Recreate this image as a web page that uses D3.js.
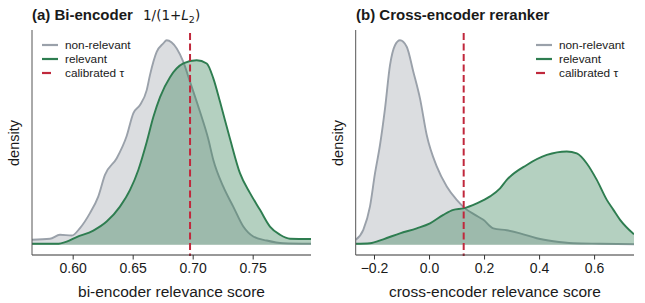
<!DOCTYPE html>
<html>
<head>
<meta charset="utf-8">
<script src="https://cdn.jsdelivr.net/npm/d3@7"></script>
<style>
  body { margin: 0; background: #fff; }
  svg { display: block; }
  text { font-family: "Liberation Sans", Arial, sans-serif; fill: #1a1a1a; }
</style>
</head>
<body>
<script>
// bi-encoder panel (a): score grid + densities
const biScoreNon = [0.5661, 0.5811, 0.5894, 0.5992, 0.6061, 0.6144, 0.6213, 0.6269, 0.6367, 0.6450, 0.6505, 0.6561, 0.6617, 0.6644, 0.6700, 0.6755, 0.6783, 0.6867, 0.6922, 0.6978, 0.7061, 0.7130, 0.7172, 0.7255, 0.7338, 0.7422, 0.7505, 0.7617, 0.7755, 0.7986];
const biDensNon = [0.40, 0.48, 0.80, 0.74, 1.34, 2.54, 3.86, 5.60, 6.94, 8.72, 10.54, 11.20, 12.40, 13.60, 15.46, 16.14, 16.40, 15.74, 14.66, 13.06, 10.66, 8.48, 6.80, 4.66, 3.06, 1.46, 0.66, 0.34, 0.12, 0.08];
const biScoreRel = [0.5661, 0.5867, 0.5950, 0.6033, 0.6172, 0.6283, 0.6394, 0.6478, 0.6547, 0.6617, 0.6672, 0.6728, 0.6811, 0.6922, 0.7033, 0.7117, 0.7172, 0.7228, 0.7311, 0.7394, 0.7478, 0.7561, 0.7644, 0.7728, 0.7811, 0.7986];
const biDensRel = [0.08, 0.08, 0.26, 0.62, 1.14, 1.86, 3.06, 4.40, 6.00, 8.24, 10.24, 11.84, 13.44, 14.54, 14.80, 14.54, 13.34, 11.46, 8.50, 5.74, 4.14, 2.80, 1.46, 0.80, 0.48, 0.46];
const biTau = 0.6978;
const biTicks = [0.60, 0.65, 0.70, 0.75];

// cross-encoder panel (b)
const ceScoreNon = [-0.2665, -0.2389, -0.2145, -0.1964, -0.1782, -0.1600, -0.1418, -0.1236, -0.1055, -0.0811, -0.0571, -0.0327, -0.0084, 0.0280, 0.0644, 0.1007, 0.1309, 0.1673, 0.1975, 0.2338, 0.2825, 0.3309, 0.3916, 0.4520, 0.5247, 0.6218, 0.7450];
const ceDensNon = [0.10, 0.30, 0.77, 1.43, 2.00, 2.73, 3.60, 4.00, 4.10, 3.97, 3.47, 2.93, 2.20, 1.57, 1.17, 0.90, 0.73, 0.60, 0.50, 0.33, 0.29, 0.23, 0.13, 0.07, 0.03, 0.02, 0.01];
const ceScoreRel = [-0.2665, -0.2145, -0.1662, -0.1055, -0.0447, 0.0036, 0.0520, 0.0884, 0.1247, 0.1735, 0.2218, 0.2582, 0.2825, 0.3553, 0.4280, 0.5007, 0.5371, 0.5735, 0.6098, 0.6462, 0.6702, 0.6945, 0.7450];
const ceDensRel = [0.02, 0.03, 0.11, 0.23, 0.33, 0.43, 0.60, 0.70, 0.73, 0.83, 0.97, 1.13, 1.30, 1.60, 1.80, 1.87, 1.83, 1.63, 1.30, 0.90, 0.70, 0.50, 0.21];
const ceTau = 0.126;
const ceTicks = [-0.2, 0.0, 0.2, 0.4, 0.6];

const legendLabels = ["non-relevant", "relevant", "calibrated \u03c4"];

const greyCol = "#9aa1aa", greenCol = "#2e7d50", tauCol = "#c0283c";

const svg = d3.select("body").append("svg")
  .attr("width", 645)
  .attr("height", 303);

function panel(opt) {
  const g = svg.append("g");
  const x = d3.scaleLinear().domain(opt.xDomain).range([opt.left, opt.right]);
  const M = d3.max(opt.non.concat(opt.rel));
  const y = d3.scaleLinear().domain([-0.05 * M, 1.05 * M]).range([255, 30]);

  const clipId = "clip" + opt.id;
  g.append("clipPath").attr("id", clipId)
    .append("rect").attr("x", opt.left).attr("y", 28).attr("width", opt.right - opt.left).attr("height", 230);
  const plot = g.append("g").attr("clip-path", `url(#${clipId})`);

  const series = [
    {xs: opt.nonX, ys: opt.non, col: greyCol},
    {xs: opt.relX, ys: opt.rel, col: greenCol}
  ];
  series.forEach(s => {
    const pts = s.xs.map((v, i) => [v, s.ys[i]]);
    const area = d3.area().x(d => x(d[0])).y0(y(0)).y1(d => y(d[1])).curve(d3.curveMonotoneX);
    const line = d3.line().x(d => x(d[0])).y(d => y(d[1])).curve(d3.curveMonotoneX);
    plot.append("path").attr("d", area(pts)).attr("fill", s.col).attr("fill-opacity", 0.36);
    plot.append("path").attr("d", line(pts)).attr("fill", "none").attr("stroke", s.col).attr("stroke-width", 1.9);
  });

  plot.append("line")
    .attr("x1", x(opt.tau)).attr("x2", x(opt.tau))
    .attr("y1", 33).attr("y2", 256)
    .attr("stroke", tauCol).attr("stroke-width", 2)
    .attr("stroke-dasharray", "7,3.5");

  // axes
  const xAxis = d3.axisBottom(x).tickValues(opt.ticks).tickFormat(opt.fmt).tickSize(4.5).tickPadding(4);
  const ax = g.append("g").attr("transform", "translate(0,255)").call(xAxis);
  ax.select(".domain").attr("stroke", "#333").attr("stroke-width", 1).attr("d", `M${opt.left},0H${opt.right}`);
  ax.selectAll(".tick line").attr("stroke", "#333");
  ax.selectAll(".tick text").attr("font-size", 14).attr("fill", "#1a1a1a")
    .style("font-family", "'Liberation Sans', Arial, sans-serif");

  g.append("line").attr("x1", opt.left).attr("x2", opt.left).attr("y1", 30).attr("y2", 255)
    .attr("stroke", "#555").attr("stroke-width", 1);

  g.append("text").attr("x", (opt.left + opt.right) / 2).attr("y", 297)
    .attr("text-anchor", "middle").attr("font-size", 15.5).text(opt.xlabel);
  g.append("text").attr("transform", `translate(${opt.left - 13},143) rotate(-90)`)
    .attr("text-anchor", "middle").attr("font-size", 14.5).text("density");

  // legend
  const lg = g.append("g").attr("transform", `translate(${opt.legX},0)`);
  const legCols = [greyCol, greenCol, tauCol];
  legendLabels.forEach((lab, i) => {
    const yy = 45 + i * 14;
    lg.append("line").attr("x1", 0).attr("x2", i === 2 ? 9 : 16).attr("y1", yy).attr("y2", yy)
      .attr("stroke", legCols[i]).attr("stroke-width", 2.2);
    lg.append("text").attr("x", 23).attr("y", yy + 4).attr("font-size", 11.8).text(lab);
  });
  return g;
}

panel({
  id: "a", left: 32, right: 311, xDomain: [0.5661, 0.7986],
  nonX: biScoreNon, non: biDensNon, relX: biScoreRel, rel: biDensRel,
  tau: biTau, ticks: biTicks, fmt: d3.format(".2f"),
  xlabel: "bi-encoder relevance score", legX: 42
});

panel({
  id: "b", left: 355.7, right: 634, xDomain: [-0.2665, 0.745],
  nonX: ceScoreNon, non: ceDensNon, relX: ceScoreRel, rel: ceDensRel,
  tau: ceTau, ticks: ceTicks, fmt: d => d3.format(".1f")(d).replace("-", "\u2212"),
  xlabel: "cross-encoder relevance score", legX: 536
});

// titles
const ta = svg.append("text").attr("x", 32).attr("y", 20).attr("font-size", 15);
ta.append("tspan").attr("font-weight", "bold").text("(a) Bi-encoder");
const tm = svg.append("text").attr("x", 143).attr("y", 20).attr("font-size", 13.5)
  .style("font-family", "'DejaVu Sans', sans-serif");
tm.append("tspan").text("1/(1+");
tm.append("tspan").attr("font-style", "italic").text("L");
tm.append("tspan").attr("font-size", 9.5).attr("dy", 3).text("2");
tm.append("tspan").attr("dy", -3).text(")");

svg.append("text").attr("x", 356).attr("y", 20).attr("font-size", 15)
  .attr("font-weight", "bold").text("(b) Cross-encoder reranker");
</script>
</body>
</html>
